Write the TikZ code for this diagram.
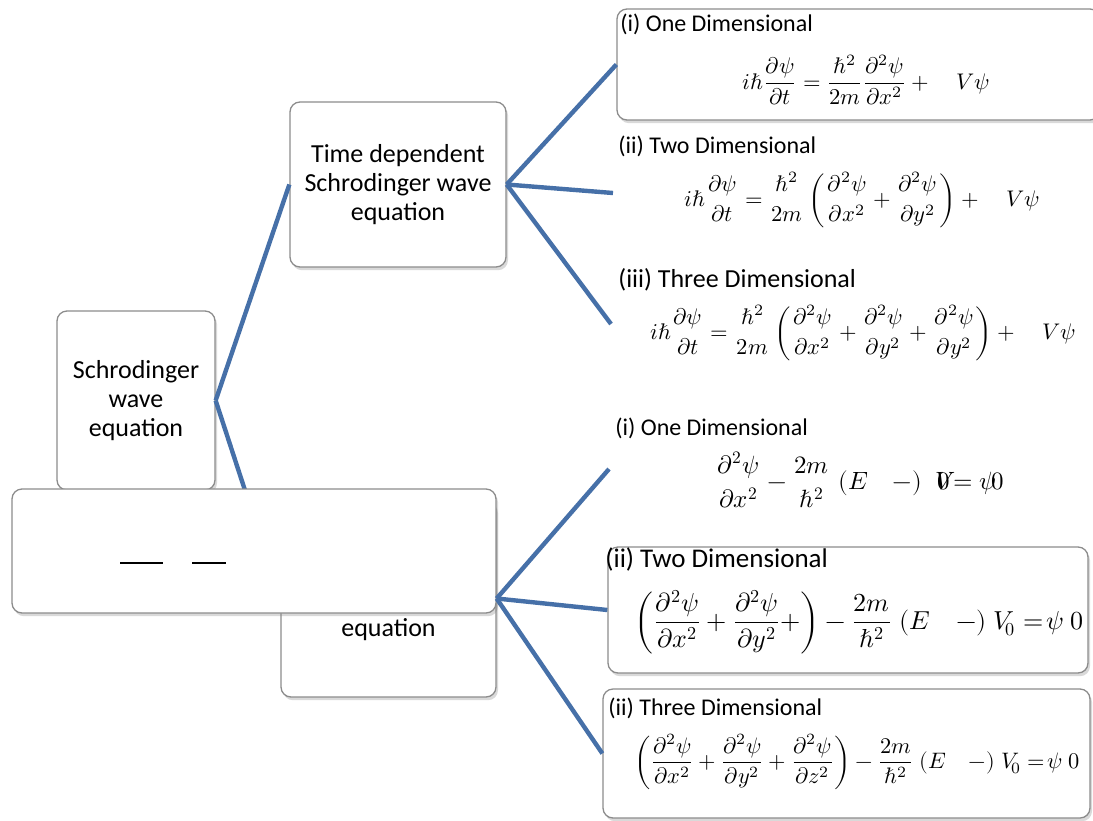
\documentclass[tikz,border=0pt]{standalone}
\usepackage{amsmath}
\usepackage{fontspec}
\usepackage{unicode-math}
\setmainfont{Carlito}
\setmathfont{Latin Modern Math}
\usetikzlibrary{shadows}
\definecolor{linkblue}{RGB}{70,112,168}
\definecolor{boxgray}{RGB}{140,140,140}
\newcommand{\barless}[2]{\genfrac{}{}{0pt}{0}{#1}{#2}}
\begin{document}
\begin{tikzpicture}[x=0.5pt,y=-0.5pt,
    box/.style={draw=boxgray,line width=0.65pt,rounded corners=5pt,fill=white,
      drop shadow={shadow xshift=1pt,shadow yshift=-1.6pt,opacity=0.3},inner sep=0pt},
    boxtext/.style={align=center,font=\fontsize{13}{14.5}\selectfont},
    dimlabel/.style={anchor=base west,inner sep=0pt,font=\fontsize{12}{14}\selectfont},
    eqn/.style={inner sep=0pt,font=\fontsize{11.3}{14}\selectfont},
    link/.style={draw=linkblue,line width=2.2pt}]
    \useasboundingbox (0,0) rectangle (1093,820);
    \node[box,boxtext,minimum width=79pt,minimum height=89.5pt] (root) at (136,400.5) {Schrodinger\\wave\\equation};
    \node[box,boxtext,minimum width=108pt,minimum height=82.5pt] (dep) at (398,184.5) {Time dependent\\Schrodinger wave\\equation};
    \node[box,minimum width=107.5pt,minimum height=98.5pt] (indep) at (388.5,598.5) {};
    \node[boxtext,inner sep=0pt] (indeptext) at (388.5,630) {equation};
    \draw[link] (root.east) -- (dep.west);
    \draw[link] (root.east) -- (indep.west);
    \node[box,minimum width=242pt,minimum height=62pt] (hidden) at (254,551) {};
    \draw[line width=0.7pt] (120,563) -- (163,563);
    \draw[line width=0.7pt] (192,563) -- (226,563);
    \node[box,minimum width=241.5pt,minimum height=55.5pt] (dep1) at (858.5,64.5) {};
    \coordinate (dep2) at (613,193);
    \coordinate (dep3) at (611,324);
    \draw[link] (dep.east) -- (dep1.west);
    \draw[link] (dep.east) -- (dep2);
    \draw[link] (dep.east) -- (dep3);
    \node[box,minimum width=240pt,minimum height=63pt] (ind2) at (848,610) {};
    \node[box,minimum width=243.5pt,minimum height=64.5pt] (ind3) at (846.5,753.5) {};
    \coordinate (ind1) at (609,469);
    \draw[link] (indep.east) -- (ind1);
    \draw[link] (indep.east) -- (ind2.west);
    \draw[link] (indep.east) -- (ind3.west);
    \node[dimlabel] (dep1lab) at (620,31) {(i) One Dimensional};
    \node[eqn] (dep1eq) at (866,80) {$\displaystyle i\hbar\frac{\partial\psi}{\partial t}=\frac{\hbar^2}{2m}\frac{\partial^2\psi}{\partial x^2}+\quad V\psi$};
    \node[dimlabel] (dep2lab) at (618,153) {(ii) Two Dimensional};
    \node[eqn] (dep2eq) at (862,200) {$\displaystyle i\hbar\barless{\partial\psi}{\partial t}=\barless{\hbar^2}{2m}\left(\barless{\partial^2\psi}{\partial x^2}+\barless{\partial^2\psi}{\partial y^2}\right)+\quad V\psi$};
    \node[dimlabel,font=\fontsize{13}{15}\selectfont] (dep3lab) at (618,287) {(iii) Three Dimensional};
    \node[eqn] (dep3eq) at (863,333) {$\displaystyle i\hbar\barless{\partial\psi}{\partial t}=\barless{\hbar^2}{2m}\left(\barless{\partial^2\psi}{\partial x^2}+\barless{\partial^2\psi}{\partial y^2}+\barless{\partial^2\psi}{\partial y^2}\right)+\quad V\psi$};
    \node[dimlabel] (ind1lab) at (615,435) {(i) One Dimensional};
    \node[eqn,font=\fontsize{12.5}{15}\selectfont] (ind1eq) at (860,480) {$\displaystyle \barless{\partial^2\psi}{\partial x^2}-\barless{2m}{\hbar^2}\;(E\quad-)\;\;\rlap{$V$}\kern1pt 0\!= \psi\!0$};
    \node[dimlabel,font=\fontsize{13.5}{15}\selectfont] (ind2lab) at (605,567) {(ii) Two Dimensional};
    \node[eqn,font=\fontsize{13}{15}\selectfont] (ind2eq) at (859,622) {$\displaystyle \left(\frac{\partial^2\psi}{\partial x^2}+\frac{\partial^2\psi}{\partial y^2}+\right)-\frac{2m}{\hbar^2}\;(E\quad-)\;V_{\!0}=\!\psi\;0$};
    \node[dimlabel] (ind3lab) at (608,715) {(ii) Three Dimensional};
    \node[eqn,font=\fontsize{11.2}{14}\selectfont] (ind3eq) at (857,762) {$\displaystyle \left(\frac{\partial^2\psi}{\partial x^2}+\frac{\partial^2\psi}{\partial y^2}+\frac{\partial^2\psi}{\partial z^2}\right)-\frac{2m}{\hbar^2}\;(E\quad-)\;V_{\!0}=\!\psi\;0$};
\end{tikzpicture}
\end{document}
